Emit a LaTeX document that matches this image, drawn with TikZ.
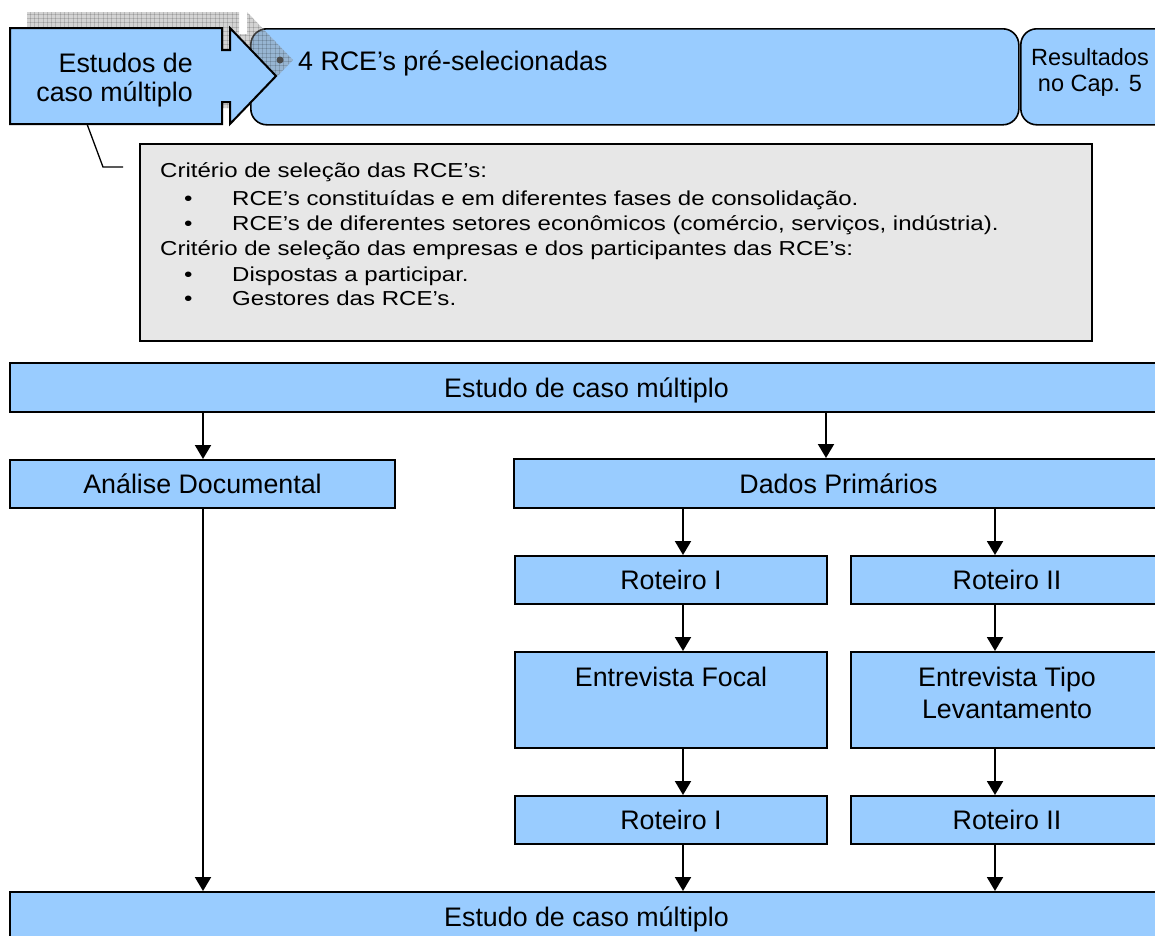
\documentclass[tikz,border=0pt]{standalone}
\usepackage{fontspec}
\setmainfont{Liberation Sans}
\newfontfamily\notefont[FakeStretch=1.19]{Liberation Sans}
\usetikzlibrary{arrows.meta}
\definecolor{flowblue}{RGB}{153,204,255}
\definecolor{notegray}{RGB}{231,231,231}
\definecolor{shadegray}{RGB}{150,150,150}
% outline of the notched arrow at the top left
\newcommand{\notchedarrow}{(10,28) -- (222,28) -- (222,50) -- (230,50) -- (230,28) -- (276,76) -- (230,124) -- (230,102) -- (222,102) -- (222,124) -- (10,124) -- cycle}

\begin{document}
\begin{tikzpicture}[x=1pt,y=-1pt,
  flowbox/.style={draw=black, line width=2pt, fill=flowblue, inner sep=0pt,
    text height=19.2pt, text depth=0pt, font=\fontsize{26.8}{31}\selectfont},
  roundbox/.style={draw=black, line width=1.6pt, fill=flowblue, rounded corners=16pt,
    minimum height=96pt, anchor=north west, inner sep=0pt},
  txt/.style={inner sep=0pt, font=\fontsize{26.8}{31}\selectfont},
  smalltxt/.style={inner sep=0pt, font=\fontsize{23.5}{27}\selectfont},
  notetxt/.style={inner sep=0pt, anchor=base west, font=\notefont\fontsize{20.2}{24}\selectfont},
  flow/.style={-{Triangle[length=14pt,width=16pt]}, line width=2pt},
]
\useasboundingbox (0,0) rectangle (1155,935);
\clip (0,0) rectangle (1155,935);

% ---------- top band ----------
\node[roundbox, minimum width=768pt] (presel) at (250,28) {};
\node[roundbox, minimum width=150pt] (result) at (1020,28) {};

% translucent hatched shadow of the arrow
\begin{scope}[shift={(17,-16)}]
  \fill[shadegray, fill opacity=0.42] \notchedarrow;
  \begin{scope}
    \clip \notchedarrow;
    \foreach \gx in {0,4.3,...,300}
      \draw[black, opacity=0.14, line width=0.6pt] (\gx,0) -- (\gx,140);
    \foreach \gy in {0,4.3,...,140}
      \draw[black, opacity=0.14, line width=0.6pt] (0,\gy) -- (300,\gy);
  \end{scope}
\end{scope}

% callout from the arrow to the selection criteria
\coordinate (callA) at (87,124);
\coordinate (callB) at (103,167);
\coordinate (callC) at (123,167);
\draw[line width=1.3pt] (callA) -- (callB) -- (callC);

\draw[line width=2pt, fill=flowblue, line join=miter] \notchedarrow;

\node[txt, anchor=base east] (casoA) at (193,72.7) {Estudos de};
\node[txt, anchor=base east] (casoB) at (193,101.7) {caso múltiplo};

\fill[black!70] (280,60) circle (3.5pt);
\node[txt, anchor=base west] (preselt) at (298,70) {4 RCE’s pré-selecionadas};

\node[smalltxt, anchor=base] (resA) at (1090,65) {Resultados};
\node[smalltxt, anchor=base] (resB) at (1090,91.7) {no Cap. 5};

% ---------- selection criteria ----------
\node[draw=black, line width=1.5pt, fill=notegray, minimum width=952pt, minimum height=197pt,
  anchor=north west, inner sep=0pt] (crit) at (139,143) {};
\node[notetxt] (critA) at (160,177.3) {Critério de seleção das RCE’s:};
\node[notetxt] (bulA) at (184,205) {•};
\node[notetxt] (itemA) at (232,205) {RCE’s constituídas e em diferentes fases de consolidação.};
\node[notetxt] (bulB) at (184,230) {•};
\node[notetxt] (itemB) at (232,230) {RCE’s de diferentes setores econômicos (comércio, serviços, indústria).};
\node[notetxt] (critB) at (160,255) {Critério de seleção das empresas e dos participantes das RCE’s:};
\node[notetxt] (bulC) at (184,281) {•};
\node[notetxt] (itemC) at (232,281) {Dispostas a participar.};
\node[notetxt] (bulD) at (184,305) {•};
\node[notetxt] (itemD) at (232,305) {Gestores das RCE’s.};

% ---------- flow ----------
\node[flowbox, minimum width=1153pt, minimum height=49pt] (estTop) at (586.5,387.5) {Estudo de caso múltiplo};
\node[flowbox, minimum width=385pt, minimum height=48pt] (anal) at (202.5,484) {Análise Documental};
\node[flowbox, minimum width=649pt, minimum height=49pt] (dados) at (838.5,483.5) {Dados Primários};
\node[flowbox, minimum width=312pt, minimum height=48pt] (rotA) at (671,580) {Roteiro I};
\node[flowbox, minimum width=312pt, minimum height=48pt] (rotB) at (1007,580) {Roteiro II};
\node[flowbox, minimum width=312pt, minimum height=96pt] (entF) at (671,700) {};
\node[flowbox, minimum width=312pt, minimum height=96pt] (entT) at (1007,700) {};
\node[txt, anchor=base] (entFt) at (671,686.7) {Entrevista Focal};
\node[txt, anchor=base] (entTa) at (1007,686.7) {Entrevista Tipo};
\node[txt, anchor=base] (entTb) at (1007,718.3) {Levantamento};
\node[flowbox, minimum width=312pt, minimum height=48pt] (rotC) at (671,820) {Roteiro I};
\node[flowbox, minimum width=312pt, minimum height=48pt] (rotD) at (1007,820) {Roteiro II};
\node[flowbox, minimum width=1153pt, minimum height=49pt] (estBot) at (586.5,916.5) {Estudo de caso múltiplo};

\coordinate (xl) at (203,0);
\coordinate (xm) at (826,0);
\coordinate (xa) at (683,0);
\coordinate (xb) at (995,0);

\draw[flow] (estTop.south -| xl) -- (anal.north -| xl);
\draw[flow] (estTop.south -| xm) -- (dados.north -| xm);
\draw[flow] (dados.south -| xa) -- (rotA.north -| xa);
\draw[flow] (dados.south -| xb) -- (rotB.north -| xb);
\draw[flow] (rotA.south -| xa) -- (entF.north -| xa);
\draw[flow] (rotB.south -| xb) -- (entT.north -| xb);
\draw[flow] (entF.south -| xa) -- (rotC.north -| xa);
\draw[flow] (entT.south -| xb) -- (rotD.north -| xb);
\draw[flow] (rotC.south -| xa) -- (estBot.north -| xa);
\draw[flow] (rotD.south -| xb) -- (estBot.north -| xb);
\draw[flow] (anal.south -| xl) -- (estBot.north -| xl);
\end{tikzpicture}
\end{document}
